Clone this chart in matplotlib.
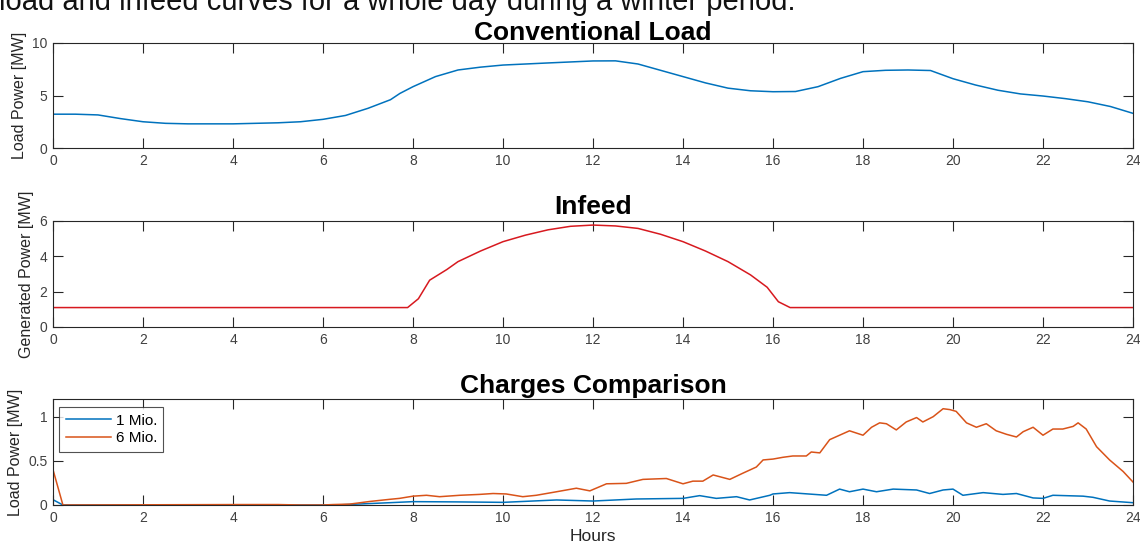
import numpy as np
import matplotlib
matplotlib.use("Agg")
import matplotlib.pyplot as plt

plt.rcParams['font.family'] = ['Liberation Sans', 'DejaVu Sans']

# conventional load [MW]
load_hours = [0, 0.5, 1, 1.5, 2, 2.5, 3, 4, 5, 5.5, 6, 6.5, 7, 7.5, 7.71, 8, 8.5, 9, 9.5,
              10, 11, 12, 12.5, 13, 13.5, 14, 14.5, 15, 15.5, 16, 16.5, 17, 17.5, 18,
              18.5, 19, 19.5, 20, 20.5, 21, 21.5, 22, 22.5, 23, 23.5, 24]
load_mw = [3.22, 3.22, 3.15, 2.8, 2.5, 2.35, 2.3, 2.3, 2.4, 2.5, 2.73, 3.1, 3.78, 4.6, 5.2,
           5.84, 6.8, 7.43, 7.7, 7.9, 8.1, 8.29, 8.3, 8.0, 7.4, 6.8, 6.2, 5.7, 5.45, 5.36,
           5.38, 5.84, 6.63, 7.27, 7.4, 7.43, 7.38, 6.6, 6.0, 5.5, 5.15, 4.95, 4.7, 4.4,
           3.95, 3.3]

# generated infeed [MW]
infeed_hours = [0, 7.88, 8.12, 8.37, 8.75, 9, 9.5, 10, 10.5, 11, 11.5, 12, 12.5, 13, 13.5,
                14, 14.5, 15, 15.5, 15.87, 16.12, 16.38, 24]
infeed_mw = [1.1, 1.1, 1.6, 2.65, 3.25, 3.7, 4.3, 4.83, 5.2, 5.5, 5.7, 5.77, 5.72, 5.58,
             5.25, 4.83, 4.3, 3.7, 2.95, 2.25, 1.43, 1.1, 1.1]

# charging load, 1 Mio. case
mio1_hours = [0, 0.22, 6.3, 7.48, 8.0, 9, 10.0, 11.19, 12.0, 12.96, 14.0, 14.37, 14.74,
              15.19, 15.48, 15.93, 16.0, 16.37, 17.19, 17.48, 17.7, 18.0, 18.3, 18.67,
              19.19, 19.48, 19.78, 20.0, 20.22, 20.67, 21.11, 21.41, 21.78, 22.0, 22.22,
              22.89, 23.11, 23.48, 24.0]
mio1_mw = [0.06, 0, 0, 0.026, 0.038, 0.035, 0.03, 0.057, 0.045, 0.068, 0.075, 0.106, 0.075,
           0.094, 0.057, 0.11, 0.125, 0.14, 0.11, 0.18, 0.15, 0.18, 0.15, 0.18, 0.17, 0.13,
           0.17, 0.18, 0.11, 0.14, 0.12, 0.13, 0.08, 0.075, 0.11, 0.10, 0.087, 0.045, 0.026]

# charging load, 6 Mio. case
mio6_hours = [0, 0.22, 4.2, 5.0, 5.5, 6.0, 6.22, 6.59, 7.04, 7.48, 7.7, 8.0, 8.3, 8.59,
              9.04, 9.48, 9.78, 10.07, 10.44, 10.74, 11.19, 11.63, 11.93, 12.3, 12.74,
              13.11, 13.63, 14.0, 14.22, 14.44, 14.67, 15.04, 15.33, 15.63, 15.78, 16.0,
              16.22, 16.44, 16.74, 16.85, 17.04, 17.26, 17.48, 17.7, 18.0, 18.19, 18.37,
              18.52, 18.74, 18.96, 19.19, 19.33, 19.56, 19.78, 19.93, 20.07, 20.3, 20.52,
              20.74, 20.96, 21.19, 21.41, 21.56, 21.78, 22.0, 22.22, 22.44, 22.67, 22.78,
              22.96, 23.19, 23.48, 23.78, 24.0]
mio6_mw = [0.40, 0.0, 0.005, 0.005, 0.0, 0.0, 0.005, 0.01, 0.04, 0.064, 0.075, 0.10, 0.11,
           0.094, 0.11, 0.12, 0.13, 0.125, 0.094, 0.11, 0.15, 0.19, 0.16, 0.24, 0.245, 0.29,
           0.30, 0.24, 0.27, 0.27, 0.34, 0.29, 0.36, 0.43, 0.51, 0.52, 0.54, 0.555, 0.555,
           0.60, 0.59, 0.74, 0.79, 0.84, 0.79, 0.88, 0.93, 0.92, 0.85, 0.94, 0.99, 0.94,
           1.0, 1.09, 1.08, 1.06, 0.93, 0.88, 0.92, 0.84, 0.80, 0.77, 0.83, 0.88, 0.79,
           0.86, 0.86, 0.89, 0.93, 0.86, 0.66, 0.51, 0.38, 0.26]

hour_ticks = np.arange(0, 25, 2)

W, H = 1140, 553
fig = plt.figure(figsize=(W / 100, H / 100), dpi=100)


def px_axes(top, bottom, left=53, right=1133):
    return fig.add_axes([left / W, 1 - bottom / H, (right - left) / W, (bottom - top) / H])


def style(ax, ylim, yticks, ylabel, title, pad=4):
    ax.set_xlim(0, 24)
    ax.set_ylim(*ylim)
    ax.set_xticks(hour_ticks)
    ax.set_yticks(yticks)
    ax.tick_params(direction='in', length=7, width=0.8, top=True, right=True,
                   labelsize=10, labelcolor='#404040', color='#262626', pad=4)
    for s in ax.spines.values():
        s.set_color('#262626')
        s.set_linewidth(0.8)
    ax.set_ylabel(ylabel, fontsize=11.5, color='#262626', labelpad=4)
    ax.set_title(title, fontsize=19, fontweight='bold', pad=pad)


ax1 = px_axes(43, 148)
ax1.plot(load_hours, load_mw, color='#0072BD', lw=1.1)
style(ax1, (0, 10), [0, 5, 10], 'Load Power [MW]', 'Conventional Load', pad=2)

ax2 = px_axes(221, 327)
ax2.plot(infeed_hours, infeed_mw, color='#d7191f', lw=1.1)
style(ax2, (0, 6), [0, 2, 4, 6], 'Generated Power [MW]', 'Infeed', pad=5)

ax3 = px_axes(399, 505)
ax3.plot(mio1_hours, mio1_mw, color='#0072BD', lw=1.1, label='1 Mio.')
ax3.plot(mio6_hours, mio6_mw, color='#D95319', lw=1.1, label='6 Mio.')
style(ax3, (0, 1.2), [0, 0.5, 1], 'Load Power [MW]', 'Charges Comparison', pad=4)
ax3.set_yticklabels(['0', '0.5', '1'])
ax3.set_xlabel('Hours', fontsize=12.5, color='#262626', labelpad=3)
leg = ax3.legend(loc='upper left', fontsize=11, frameon=True, fancybox=False,
                 handlelength=3.0, borderpad=0.4, labelspacing=0.25, handletextpad=0.3,
                 bbox_to_anchor=(0.006, 0.92), borderaxespad=0)
leg.get_frame().set_edgecolor('#262626')
leg.get_frame().set_linewidth(0.8)

fig.text(-0.001, 1 - 10 / H, 'load and infeed curves for a whole day during a winter period.',
         fontsize=21, va='baseline', ha='left', color='#111111')

fig.savefig('out.png', dpi=100)
